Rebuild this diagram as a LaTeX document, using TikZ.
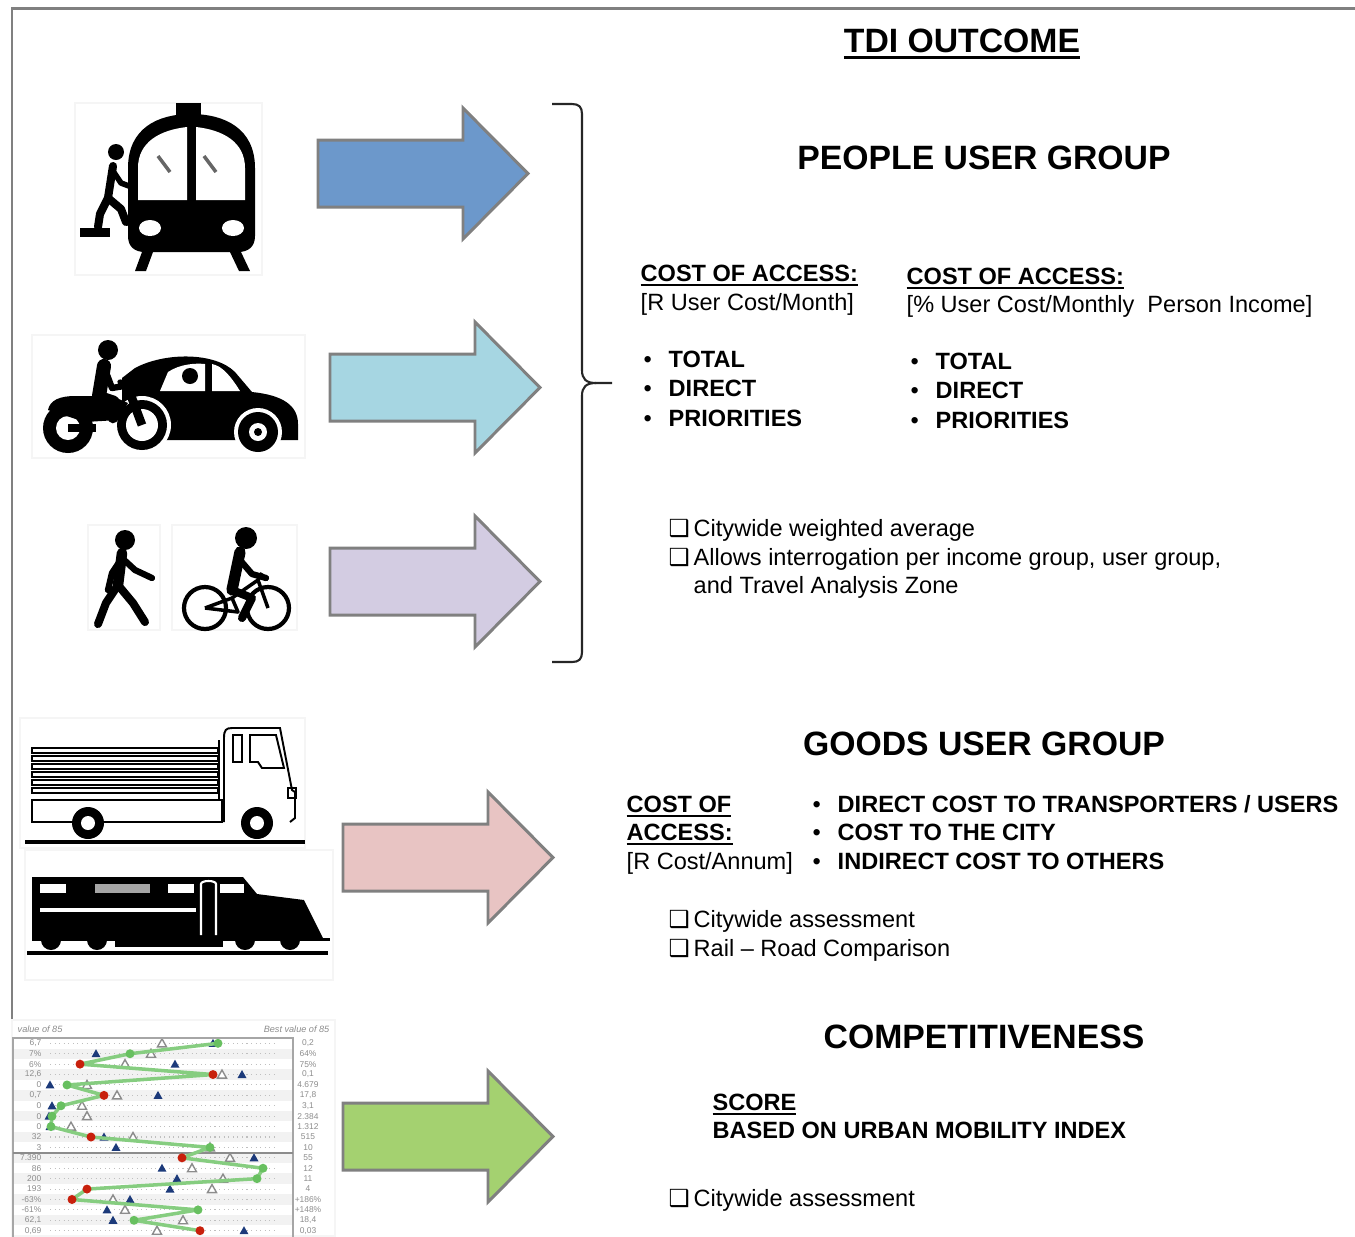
\documentclass[tikz,border=0pt]{standalone}
\usepackage{fontspec}
\setmainfont{Liberation Sans}
\newfontfamily\symfont{DejaVu Sans}
\usepackage{tikz}
\usetikzlibrary{calc}
\usepackage{xcolor}
\definecolor{frameGray}{RGB}{128,128,128}
\definecolor{arrBlue}{RGB}{108,152,203}
\definecolor{arrCyan}{RGB}{166,214,226}
\definecolor{arrLilac}{RGB}{211,204,226}
\definecolor{arrPink}{RGB}{232,196,195}
\definecolor{arrGreen}{RGB}{164,209,112}
\definecolor{ptGreen}{RGB}{104,192,96}
\definecolor{ptRed}{RGB}{200,32,12}
\definecolor{ptBlue}{RGB}{28,58,122}

\newcommand\bodysize{\fontsize{6.7}{8.2}\selectfont}
\newcommand\bulletmark{\makebox[2.5mm][l]{\mdseries\textbullet}}
\newcommand\boxmark{\makebox[2.5mm][l]{\symfont ❑}}
\newcommand\ul[1]{\leavevmode\setbox0=\hbox{#1}\rlap{\rule[-0.2em]{\wd0}{0.08em}}\box0}

\begin{document}
\begin{tikzpicture}[x=0.1mm, y=-0.1mm,
  txt/.style={inner sep=0pt, anchor=base west, font=\bodysize},
  bold/.style={txt, font=\bodysize\bfseries},
  head/.style={inner sep=0pt, anchor=base, font=\fontsize{9.6}{11}\selectfont\bfseries},
  bigarrow/.style={draw=frameGray, line width=0.85pt, line join=miter},
  limb/.style={line width=2.3pt, line cap=round, line join=round},
  outline/.style={draw=black, line width=0.55pt},
  iconbox/.style={draw=black!4, line width=0.3pt},
  chartnum/.style={inner sep=0pt, text=black!45, font=\fontsize{2.4}{2.6}\selectfont}]
  \useasboundingbox (0,0) rectangle (1355,1236);

  % page frame
  \draw[frameGray, line width=0.85pt] (12,1236) -- (12,8) -- (1355,8);

  % headings
  \node[head] (title) at (962,52) {\ul{TDI OUTCOME}};
  \node[head] (people) at (984,169) {PEOPLE USER GROUP};
  \node[head] (goods) at (984,755) {GOODS USER GROUP};
  \node[head] (compet) at (984,1048) {COMPETITIVENESS};

  % block arrows
  \foreach \ax/\ay/\ac in {318/173.5/arrBlue, 330/387.5/arrCyan, 330/581.5/arrLilac,
                           343/857.5/arrPink, 343/1136.5/arrGreen}
    \draw[bigarrow, fill=\ac] (\ax,\ay-33.5) -- ++(145,0) -- ++(0,-32) -- ++(65,65.5)
      -- ++(-65,65.5) -- ++(0,-32) -- ++(-145,0) -- cycle;

  % brace over the people arrows
  \draw[line width=0.6pt, black!85] (552,104) -- (572,104) .. controls (579,104) and (582,107) .. (582,114)
    -- (582,370) .. controls (582,379) and (586,383) .. (596,383) -- (612,383);
  \draw[line width=0.6pt, black!85] (596,383) .. controls (586,383) and (582,387) .. (582,396)
    -- (582,652) .. controls (582,659) and (579,662) .. (572,662) -- (552,662);

  % people user group: cost of access
  \node[bold] (costA) at (640,281) {\ul{COST OF ACCESS:}};
  \node[txt] (unitA) at (640,310) {[R User Cost/Month]};
  \node[bold] (costB) at (906,284) {\ul{COST OF ACCESS:}};
  \node[txt] (unitB) at (906,312) {[\% User Cost/Monthly~ Person Income]};
  \foreach \t [count=\i from 0] in {TOTAL, DIRECT, PRIORITIES} {
    \node[bold] (itemA\i) at (643,367+29.5*\i) {\bulletmark\t};
    \node[bold] (itemB\i) at (910,369+29.5*\i) {\bulletmark\t};
  }
  \node[txt] (noteA1) at (668,536) {\boxmark Citywide weighted average};
  \node[txt] (noteA2) at (668,565) {\boxmark Allows interrogation per income group, user group,};
  \node[txt] (noteA3) at (693,593) {and Travel Analysis Zone};

  % goods user group
  \node[bold] (costC1) at (626,812) {\ul{COST OF}};
  \node[bold] (costC2) at (626,840) {\ul{ACCESS:}};
  \node[txt] (unitC) at (626,869) {[R Cost/Annum]};
  \foreach \t [count=\i from 0] in {{DIRECT COST TO TRANSPORTERS / USERS}, {COST TO THE CITY},
                                    {INDIRECT COST TO OTHERS}}
    \node[bold] (itemC\i) at (812,812+28.5*\i) {\bulletmark\t};
  \node[txt] (noteC1) at (668,927) {\boxmark Citywide assessment};
  \node[txt] (noteC2) at (668,956) {\boxmark Rail – Road Comparison};

  % competitiveness
  \node[bold] (score) at (712,1110) {\ul{SCORE}};
  \node[bold] (umi) at (712,1138) {BASED ON URBAN MOBILITY INDEX};
  \node[txt] (noteD1) at (668,1206) {\boxmark Citywide assessment};

  % icon: train with boarding passenger
  \draw[iconbox] (75,103) rectangle (262,275);
  \fill (176,103) rectangle (201,116);
  \fill (128,236) -- (128,168) .. controls (128,128) and (158,114) .. (191,114)
    .. controls (224,114) and (255,128) .. (255,168) -- (255,236)
    .. controls (255,247) and (248,252) .. (238,252) -- (145,252)
    .. controls (135,252) and (128,247) .. (128,236) -- cycle;
  \fill[white] (138,200) -- (138,168) .. controls (138,142) and (160,130) .. (187,127) -- (187,200) -- cycle;
  \fill[white] (196,200) -- (196,127) .. controls (223,130) and (245,142) .. (245,168) -- (245,200) -- cycle;
  \draw[black!60, line width=1pt] (158,156) -- (170,172) (204,156) -- (216,172);
  \fill[white] (150,228) ellipse (11 and 8);
  \fill[white] (233,228) ellipse (11 and 8);
  \fill (142,252) -- (153,252) -- (146,271) -- (135,271) -- cycle;
  \fill (230,252) -- (241,252) -- (250,271) -- (239,271) -- cycle;
  \fill (116,152) circle (8);
  \draw[limb] (113,166) -- (108,198);
  \draw[limb, line width=1.6pt] (113,171) -- (121,183) -- (129,186);
  \draw[limb] (108,198) -- (100,214) -- (98,227);
  \draw[limb] (108,198) -- (121,209) -- (126,222);
  \fill (80,228) rectangle (110,237);

  % icon: car and motorbike
  \draw[iconbox] (32,335) rectangle (305,458);
  \fill (122,440) -- (122,378) -- (135,368) .. controls (165,352) and (215,352) .. (235,372)
    -- (252,392) .. controls (282,395) and (298,405) .. (298,424) -- (298,440) -- cycle;
  \fill[white] (160,391) -- (168,372) .. controls (180,364) and (195,363) .. (205,364) -- (205,391) -- cycle;
  \fill[white] (212,364) .. controls (222,366) and (230,375) .. (240,391) -- (212,391) -- cycle;
  \fill (190,376) circle (8);
  \fill[white] (258,432) circle (24);
  \fill (258,432) circle (20);
  \fill[white] (258,432) circle (9);
  \fill (258,432) circle (4);
  \fill[white] (142,425) circle (29);
  \fill (142,425) circle (25);
  \fill[white] (142,425) circle (16);
  \fill (68,428) circle (25);
  \fill[white] (68,428) circle (12);
  \fill (68,424) rectangle (96,432);
  \fill (48,410) .. controls (50,400) and (60,396) .. (75,396) -- (112,396) -- (128,403)
    -- (118,420) -- (85,422) -- cycle;
  \draw[line width=2.5pt] (142,425) -- (127,385);
  \draw[line width=1.5pt, line cap=round] (120,382) -- (133,385);
  \fill (108,350) circle (10);
  \draw[limb, line width=4pt] (104,366) -- (99,396);
  \draw[limb, line width=1.8pt] (106,372) -- (112,388) -- (124,386);
  \draw[limb, line width=3pt] (99,396) -- (114,401) -- (113,418);

  % icon: pedestrian
  \draw[iconbox] (88,525) rectangle (160,630);
  \fill (125,540) circle (10);
  \draw[limb, line width=3pt] (122,553) -- (118,585);
  \draw[limb] (118,585) -- (106,603) -- (98,624);
  \draw[limb] (118,585) -- (133,603) -- (145,622);
  \draw[limb, line width=1.8pt] (122,558) -- (112,573) -- (108,590);
  \draw[limb, line width=1.8pt] (122,558) -- (135,570) -- (152,578);

  % icon: cyclist
  \draw[iconbox] (172,525) rectangle (297,630);
  \fill (246,538) circle (11);
  \draw[line width=1.2pt] (205,608) circle (21) (268,608) circle (21);
  \draw[line width=1pt, line join=round] (205,608) -- (232,598) -- (258,580) -- (268,608)
    (232,598) -- (238,612) -- (205,608) (258,580) -- (262,573);
  \draw[limb, line width=3.2pt] (240,552) -- (232,590);
  \draw[limb, line width=1.8pt] (240,560) -- (252,574) -- (266,578);
  \draw[limb] (232,590) -- (252,598) -- (242,618);

  % icon: lorry
  \draw[iconbox] (20,718) rectangle (305,848);
  \foreach \s in {0,...,5}
    \draw[outline] (32,748+8*\s) rectangle (218,753+8*\s);
  \draw[outline] (32,800) rectangle (222,822);
  \draw[outline] (219,740) -- (219,800);
  \draw[outline] (224,822) -- (224,738) .. controls (224,730) and (226,728) .. (232,728) -- (280,728)
    -- (292,790) -- (295,792) -- (295,818) -- (290,822);
  \draw[outline] (233,735) rectangle (242,762);
  \draw[outline] (250,735) -- (276,735) -- (284,768) -- (262,768) -- (258,762) -- (250,762) -- cycle;
  \draw[outline] (288,788) rectangle (296,798);
  \foreach \wx in {88,257} {
    \fill (\wx,823) circle (16);
    \fill[white] (\wx,823) circle (7);
  }
  \draw[line width=1pt] (25,842) -- (305,842);

  % icon: locomotive
  \draw[iconbox] (25,850) rectangle (333,980);
  \fill (32,877) -- (243,877) -- (257,894) -- (304,900) -- (328,948) -- (32,948) -- cycle;
  \fill[white] (40,884) rectangle (66,893);
  \fill[black!35] (95,884) rectangle (150,893);
  \fill[white] (168,884) rectangle (194,893);
  \fill[white] (220,884) rectangle (244,893);
  \draw[white, line width=1pt] (40,910) -- (196,910);
  \draw[white, line width=0.6pt] (201,935) -- (201,884) .. controls (201,880) and (216,880) .. (216,884) -- (216,935);
  \fill[white] (32,938) rectangle (330,950);
  \foreach \wx in {51,97,245,290}
    \fill (\wx,940) circle (10);
  \fill (115,940) rectangle (223,947);
  \fill (32,938) rectangle (330,941);
  \draw[line width=1pt] (27,953) -- (328,953);

  % performance chart
  \draw[iconbox] (12,1020) rectangle (335,1236);
  \node[chartnum, anchor=west, font=\fontsize{2.6}{3}\selectfont\itshape] (worst) at (17,1029) {value of 85};
  \node[chartnum, anchor=east, font=\fontsize{2.6}{3}\selectfont\itshape] (best) at (330,1029) {Best value of 85};
  \foreach \lv/\rv/\gx/\bx/\wx [count=\i] in {
      {6,7}/{0,2}/218/213/162, 7\%/64\%/130/96/151, 6\%/75\%/80/175/125, {12,6}/{0,1}/213/242/222,
      0/4.679/67/50/87, {0,7}/{17,8}/104/158/117, 0/{3,1}/61/52/82, 0/2.384/52/49/87,
      0/1.312/51/50/71, 32/515/91/104/133, 3/10/210/116/210, 7.390/55/182/254/230,
      86/12/263/162/192, 200/11/257/177/223, 193/4/87/170/212, -63\%/+186\%/72/130/113,
      -61\%/+148\%/198/107/125, {62,1}/{18,4}/134/113/183, {0,69}/{0,03}/200/244/157} {
    \pgfmathsetmacro\ry{1043.3+10.41*(\i-1)}
    \ifodd\i\else
      \fill[black!5] (14,\ry-5.2) rectangle (292,\ry+5.2);
    \fi
    \draw[black!25, densely dotted, line width=0.3pt] (50,\ry) -- (278,\ry);
    \node[chartnum, anchor=east] (lv\i) at (42,\ry) {\lv};
    \node[chartnum] (rv\i) at (308,\ry) {\rv};
    \coordinate (g\i) at (\gx,\ry);
    \filldraw[fill=white, draw=black!45, line width=0.4pt] (\wx,\ry) ++(0,-4.5) -- ++(4.5,8) -- ++(-9,0) -- cycle;
    \fill[ptBlue] (\bx,\ry) ++(0,-4.5) -- ++(4.5,8) -- ++(-9,0) -- cycle;
  }
  \draw[black!35, line width=0.5pt] (13,1038) rectangle (293,1240);
  \draw[black!45, line width=0.5pt] (13,1152.7) -- (293,1152.7);
  \draw[ptGreen!80!white, line width=1pt, line join=round] (g1)
    \foreach \k in {2,...,19} { -- (g\k) };
  \foreach \mc [count=\i] in {ptGreen, ptGreen, ptRed, ptRed, ptGreen, ptRed, ptGreen, ptGreen, ptGreen,
      ptRed, ptGreen, ptRed, ptGreen, ptGreen, ptRed, ptRed, ptGreen, ptGreen, ptRed}
    \fill[\mc] (g\i) circle (4.5);
\end{tikzpicture}
\end{document}
